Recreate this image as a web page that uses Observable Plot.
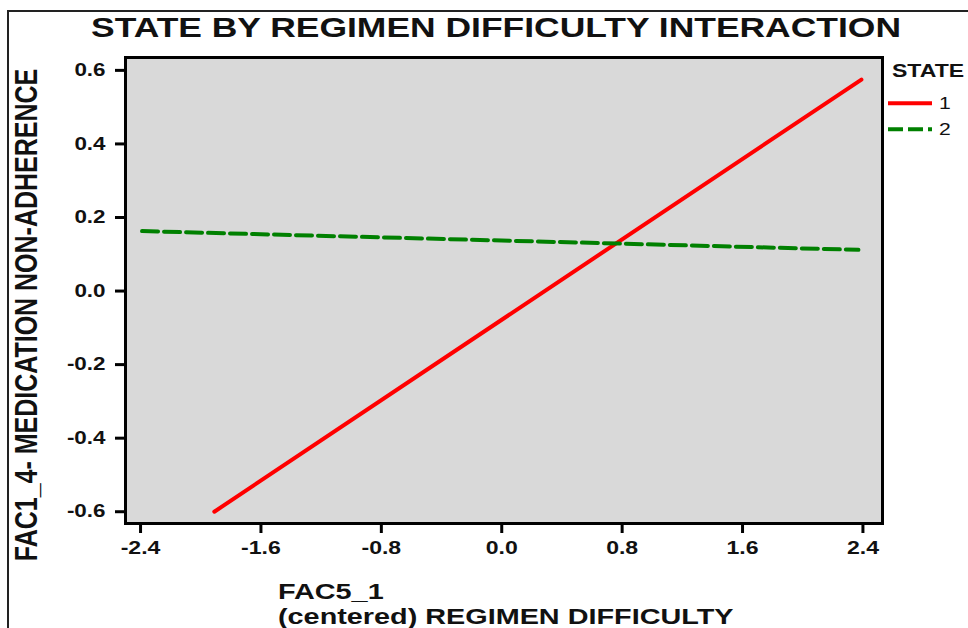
<!DOCTYPE html>
<html><head><meta charset="utf-8">
<script src="https://cdn.jsdelivr.net/npm/d3@7"></script>
<script src="https://cdn.jsdelivr.net/npm/@observablehq/plot@0.6"></script>
<style>
body{margin:0;background:#fff;}
#wrap{position:relative;width:968px;height:628px;overflow:hidden;}
#border{position:absolute;left:7px;top:10px;width:1200px;height:1000px;border-left:2px solid #222;border-top:2px solid #222;pointer-events:none;}
</style></head><body><div id="wrap"><div id="border"></div></div>
<script>
const title = "STATE BY REGIMEN DIFFICULTY INTERACTION";
const yLabel = "FAC1_4- MEDICATION NON-ADHERENCE";
const xLabel = ["FAC5_1", "(centered) REGIMEN DIFFICULTY"];
const legendTitle = "STATE";
const states = ["1", "2"];
const colors = ["#ff0000", "#008000"];
const dashes = [null, "15,5"];
const xTicks = [-2.4, -1.6, -0.8, 0.0, 0.8, 1.6, 2.4];
const yTicks = [-0.6, -0.4, -0.2, 0.0, 0.2, 0.4, 0.6];
// regimen difficulty endpoints and predicted non-adherence per state
const fac5State1 = [-1.91, 2.39];
const adhState1 = [-0.600, 0.575];
const fac5State2 = [-2.39, 2.37];
const adhState2 = [0.163, 0.112];

const line1 = fac5State1.map((x, i) => ({x, y: adhState1[i], state: states[0]}));
const line2 = fac5State2.map((x, i) => ({x, y: adhState2[i], state: states[1]}));

const plot = Plot.plot({
  width: 968, height: 628,
  marginLeft: 125, marginRight: 86, marginTop: 57, marginBottom: 105,
  style: {fontFamily: "'Liberation Sans', Arial, sans-serif", background: "white", color: "black", overflow: "visible"},
  x: {domain: [-2.5, 2.53]},
  y: {domain: [-0.632, 0.635]},
  marks: [
    Plot.frame({fill: "#d9d9d9"}),
    Plot.line(line1, {x: "x", y: "y", stroke: colors[0], strokeWidth: 4}),
    Plot.line(line2, {x: "x", y: "y", stroke: colors[1], strokeWidth: 4, strokeDasharray: "16,6"}),
    Plot.frame({stroke: "black", strokeWidth: 3}),
    Plot.axisX({ticks: xTicks, tickFormat: d => d.toFixed(1), tickSize: 10, tickPadding: 8, strokeWidth: 3, fontSize: 18, fontWeight: "bold", label: null}),
    Plot.axisY({ticks: yTicks, tickFormat: d => d.toFixed(1), tickSize: 10, tickPadding: 10, strokeWidth: 3, fontSize: 17.5, fontWeight: "bold", label: null})
  ]
});
document.getElementById("wrap").prepend(plot);
plot.style.position = "absolute"; plot.style.left = "0"; plot.style.top = "0";

const svg = d3.select(plot);
const K = 1.28;
function stretch(sel, k) {
  sel.each(function () {
    const L = this.getComputedTextLength();
    this.setAttribute("textLength", L * k);
    this.setAttribute("lengthAdjust", "spacingAndGlyphs");
  });
}
svg.selectAll('g[aria-label="x-axis tick label"] text, g[aria-label="y-axis tick label"] text').attr("font-weight", "bold").attr("fill", "#111");
svg.selectAll('g[aria-label="x-axis tick"], g[aria-label="y-axis tick"]').attr("stroke-width", 3).attr("stroke", "black");
stretch(svg.selectAll('g[aria-label="x-axis tick label"] text'), K);
stretch(svg.selectAll('g[aria-label="y-axis tick label"] text'), K);

const font = "'Liberation Sans', Arial, sans-serif";
function addText(x, y, size, weight, s) {
  return svg.append("text").attr("x", x).attr("y", y).attr("text-anchor", "start")
    .attr("font-family", font).attr("font-size", size).attr("font-weight", weight)
    .attr("fill", "#111").text(s);
}
// title
const tt = addText(91, 37, 28.5, "bold", title);
tt.attr("textLength", 810).attr("lengthAdjust", "spacingAndGlyphs");
// y label
svg.append("text").attr("transform", "translate(37,315) scale(1.28,1) rotate(-90)")
  .attr("text-anchor", "middle").attr("font-family", font).attr("font-size", 25)
  .attr("font-weight", "bold").attr("fill", "#111").text(yLabel);
// x label
xLabel.forEach((s, i) => stretch(addText(278, i === 0 ? 599 : 624, 22.5, "bold", s), K));
// legend
stretch(addText(892, 77, 18, "bold", legendTitle), K);
states.forEach((s, i) => {
  const y = 103.3 + i * 26;
  const ln = svg.append("line").attr("x1", 888).attr("x2", 932).attr("y1", y).attr("y2", y)
    .attr("stroke", colors[i]).attr("stroke-width", 4);
  if (dashes[i]) ln.attr("stroke-dasharray", dashes[i]);
  stretch(addText(939, y + 6, 16.5, "normal", s), K);
});
</script></body></html>
